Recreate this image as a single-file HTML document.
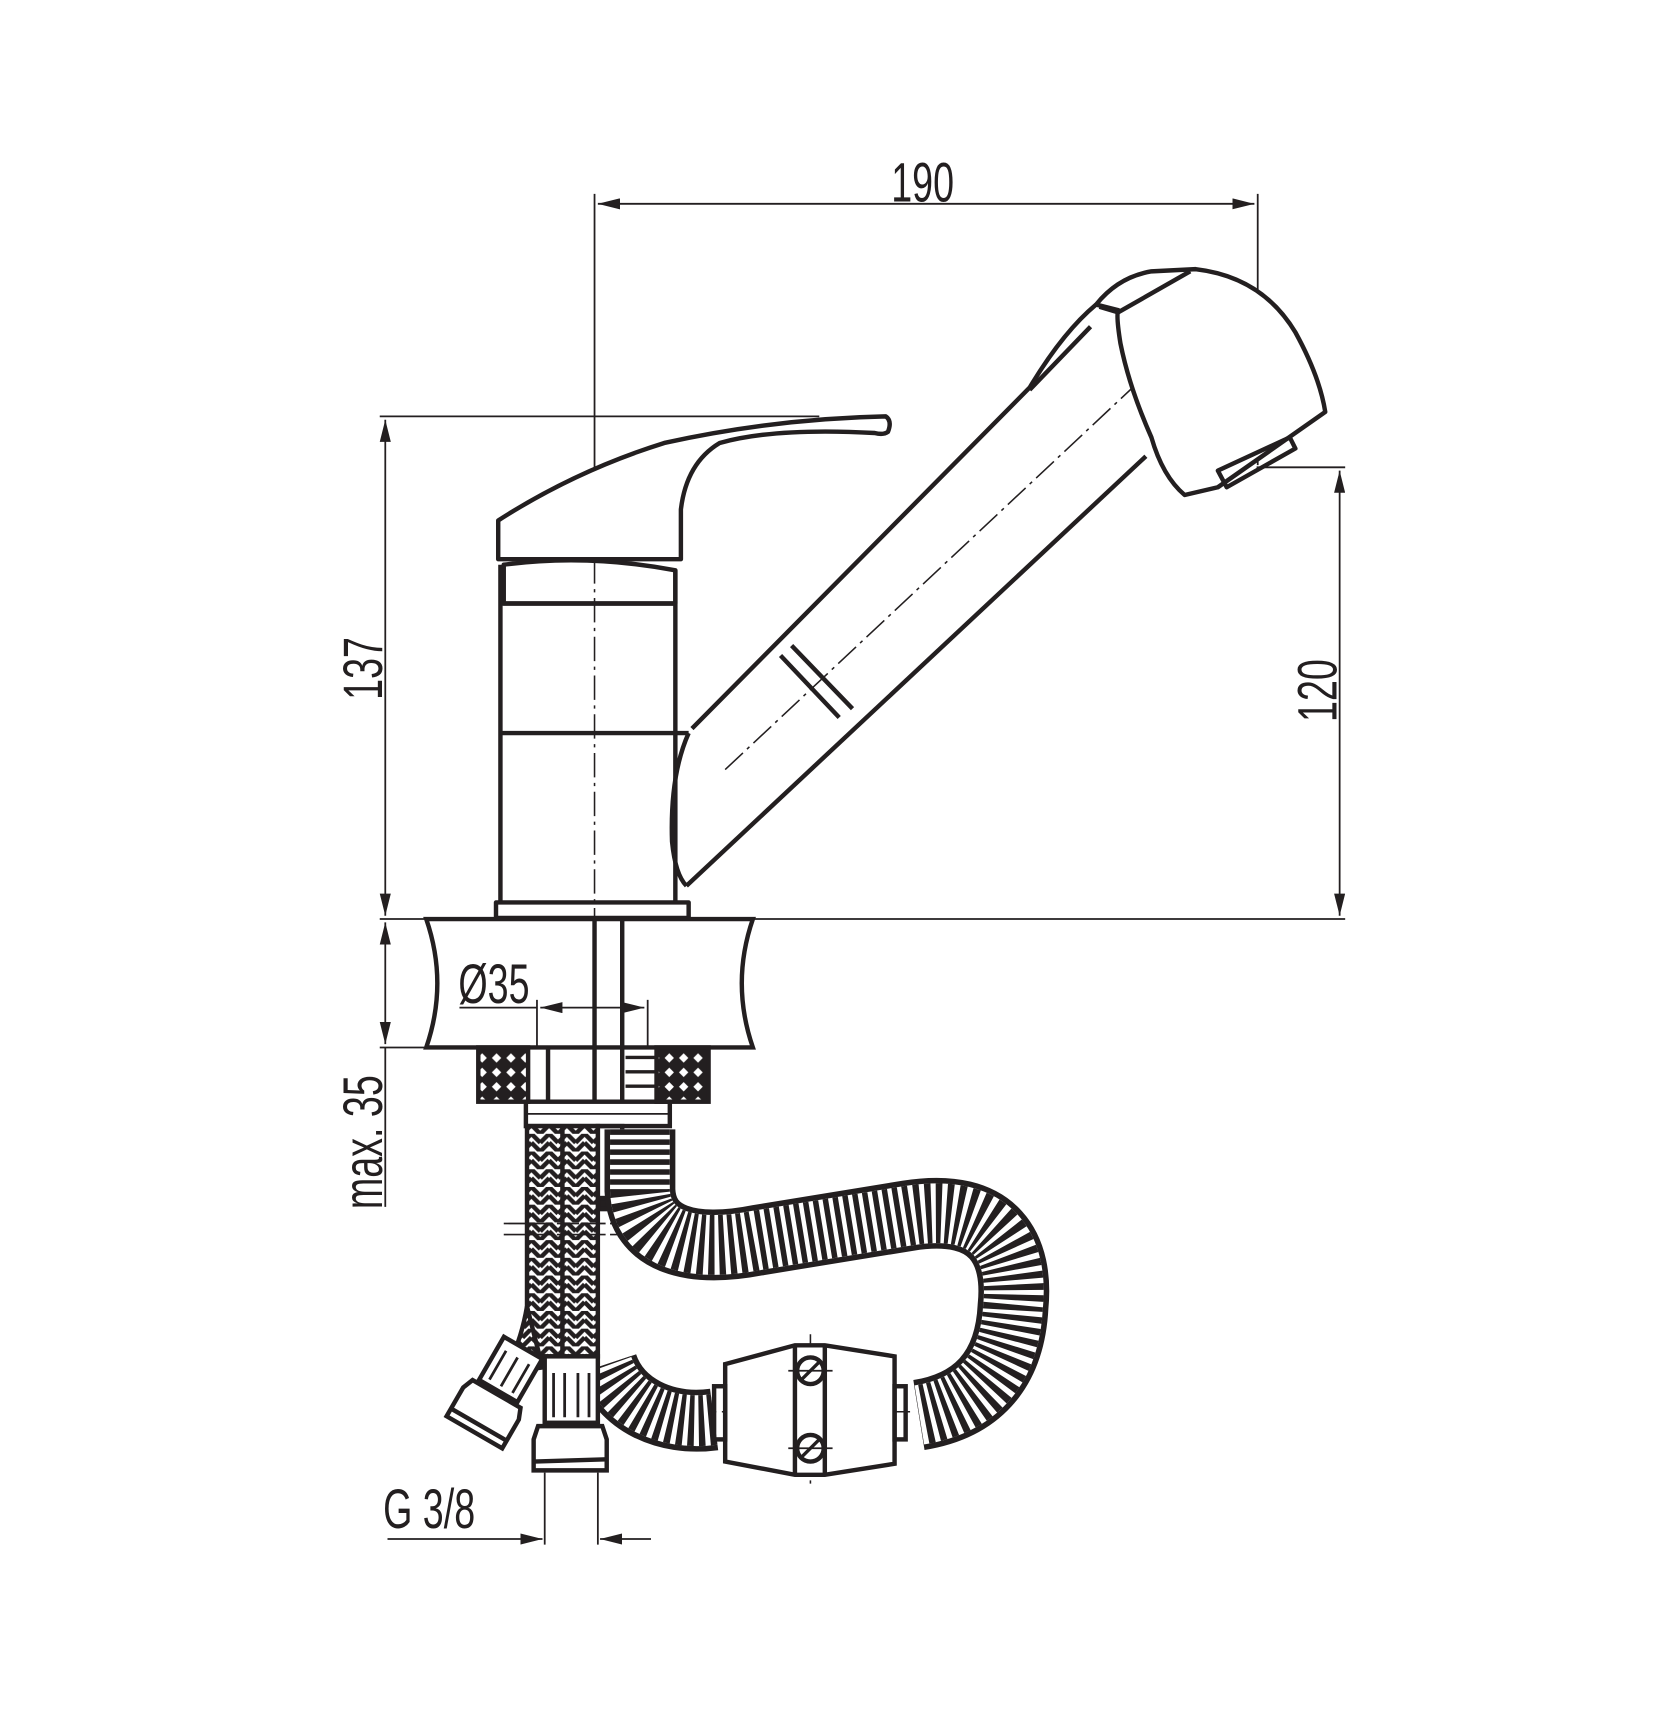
<!DOCTYPE html>
<html><head><meta charset="utf-8"><style>
html,body{margin:0;padding:0;background:#fff}
svg{display:block}
text{font-family:"Liberation Sans",sans-serif;fill:#231f20}
</style></head><body>
<svg width="1674" height="1734" viewBox="0 0 1512 1566" xmlns="http://www.w3.org/2000/svg">
<defs>
<pattern id="xh" width="13" height="13" patternUnits="userSpaceOnUse">
<rect width="13" height="13" fill="#231f20"/>
<rect x="3.5" y="3.5" width="6" height="6" fill="#fff" transform="rotate(45 6.5 6.5)"/>
</pattern>
<pattern id="br" width="16" height="16" patternUnits="userSpaceOnUse">
<rect width="16" height="16" fill="#fff"/>
<path d="M0,0 L8,8 M8,8 L16,0 M0,8 L8,16 M8,16 L16,8" stroke="#231f20" stroke-width="4"/>
</pattern>
<marker id="a" viewBox="0 0 20 10" refX="20" refY="5" markerWidth="20" markerHeight="10" markerUnits="userSpaceOnUse" orient="auto-start-reverse">
<path d="M0,0 L20,5 L0,10 z" fill="#231f20"/>
</marker>
</defs>
<g stroke="#231f20" fill="none">
<g stroke-width="1.6">
<line x1="537" y1="175" x2="537" y2="470"/>
<line x1="1136" y1="175" x2="1136" y2="420"/>
<line x1="540" y1="184" x2="1133" y2="184" marker-start="url(#a)" marker-end="url(#a)"/>
<line x1="343" y1="376" x2="740" y2="376"/>
<line x1="348" y1="379" x2="348" y2="827" marker-start="url(#a)" marker-end="url(#a)"/>
<line x1="343" y1="830" x2="1215" y2="830"/>
<line x1="1135" y1="422" x2="1215" y2="422"/>
<line x1="1210" y1="425" x2="1210" y2="827" marker-start="url(#a)" marker-end="url(#a)"/>
<line x1="348" y1="833" x2="348" y2="943" marker-start="url(#a)" marker-end="url(#a)"/>
<line x1="343" y1="946" x2="395" y2="946"/>
<line x1="348" y1="946" x2="348" y2="1090"/>
<line x1="485" y1="903" x2="485" y2="946"/>
<line x1="585" y1="903" x2="585" y2="946"/>
<line x1="415" y1="910" x2="485" y2="910"/>
<line x1="488" y1="910" x2="582" y2="910" marker-start="url(#a)" marker-end="url(#a)"/>
<line x1="492" y1="1330" x2="492" y2="1395"/>
<line x1="540" y1="1330" x2="540" y2="1395"/>
<line x1="350" y1="1390" x2="490" y2="1390" marker-end="url(#a)"/>
<line x1="588" y1="1390" x2="542" y2="1390" marker-end="url(#a)"/>
</g>
<g stroke-width="1.4" stroke-dasharray="22 5 3 5">
<line x1="537" y1="470" x2="537" y2="830"/>
<line x1="655" y1="695" x2="1055" y2="320"/>
<line x1="1042" y1="255" x2="1130" y2="412"/>
<line x1="625" y1="1275" x2="822" y2="1275"/>
<line x1="732" y1="1205" x2="732" y2="1342"/>
</g>
<g stroke-width="4" stroke-linejoin="round">
<path d="M450,505 L450,470 Q520,425 600,400 Q700,378 800,376 Q806,380 802,390 Q798,393 790,391 Q700,386 650,400 Q620,418 615,460 L615,505 Z" fill="#fff"/>
<path d="M455,510 Q530,500 610,515 L610,545 L455,545 Z"/>
<path d="M452,510 L452,815 M610,515 L610,815"/>
<line x1="452" y1="545" x2="610" y2="545"/>
<line x1="452" y1="662" x2="622" y2="662"/>
<rect x="448" y="815" width="174" height="14"/>
<path d="M622,662 Q605,700 607,760 Q610,790 620,800"/>
<path d="M620,800 L1035,412"/>
<path d="M625,658 L930,350 Q960,300 990,275"/>
<path d="M990,275 Q1010,250 1040,245 L1080,243 Q1140,250 1170,300 Q1192,340 1197,372 L1100,440 L1070,447 Q1050,430 1040,395 Q1020,350 1012,310 Q1008,285 1010,280 Z" fill="#fff"/>
<path d="M1010,282 L1075,245"/>
<path d="M993,277 L1010,282"/>
<path d="M930,352 L985,295"/>
<path d="M1100,425 L1165,395 L1170,405 L1108,440 Z"/>
<line x1="705" y1="592" x2="758" y2="648"/>
<line x1="715" y1="583" x2="770" y2="640"/>
</g>
<g stroke-width="4">
<path d="M385,830 L680,830 Q660,888 680,946 L385,946 Q405,888 385,830 Z"/>
<line x1="537" y1="830" x2="537" y2="995"/>
<line x1="562" y1="830" x2="562" y2="995"/>
<rect x="432" y="946" width="45" height="49" fill="url(#xh)"/>
<rect x="593" y="946" width="47" height="49" fill="url(#xh)"/>
<line x1="495" y1="946" x2="495" y2="995"/>
<path d="M565,955 H593 M565,968 H593 M565,981 H593" stroke-width="3"/>
<rect x="475" y="995" width="130" height="22"/>
<line x1="475" y1="1006" x2="605" y2="1006" stroke-width="1.5"/>
<rect x="540" y="1017" width="22" height="70"/>
<rect x="540" y="1082" width="22" height="10" fill="#231f20"/>
</g>
<path d="M578,1020 L578,1075 C580,1120 625,1132 685,1120 L820,1098 C900,1085 920,1130 915,1180 C912,1240 880,1270 830,1278" stroke-width="64"/>
<path d="M578,1020 L578,1075 C580,1120 625,1132 685,1120 L820,1098 C900,1085 920,1130 915,1180 C912,1240 880,1270 830,1278" stroke-width="54" stroke="#fff"/>
<path d="M578,1020 L578,1075 C580,1120 625,1132 685,1120 L820,1098 C900,1085 920,1130 915,1180 C912,1240 880,1270 830,1278" stroke-width="54" stroke-dasharray="5 4"/>
<path d="M645,1282 C600,1288 560,1268 548,1232" stroke-width="56"/>
<path d="M645,1282 C600,1288 560,1268 548,1232" stroke-width="46" stroke="#fff"/>
<path d="M645,1282 C600,1288 560,1268 548,1232" stroke-width="46" stroke-dasharray="5 4"/>
<g stroke-width="4">
<rect x="476" y="1017" width="64" height="208" fill="url(#br)"/>
<line x1="508" y1="1017" x2="508" y2="1225"/>
<path d="M476,1180 Q470,1215 455,1240 L490,1235 Z" fill="url(#br)"/>
<line x1="455" y1="1105" x2="560" y2="1105" stroke-width="1.5" stroke-dasharray="20 4"/>
<line x1="455" y1="1115" x2="560" y2="1115" stroke-width="1.5" stroke-dasharray="20 4"/>
<rect x="492" y="1225" width="48" height="60" fill="#fff"/>
<path d="M500,1240 V1280 M510,1240 V1280 M522,1240 V1280 M532,1240 V1280" stroke-width="2.5"/>
<path d="M486,1288 L544,1288 L548,1300 L548,1328 L482,1328 L482,1300 Z" fill="#fff"/>
<line x1="482" y1="1320" x2="548" y2="1318"/>
<g transform="rotate(30 445 1265)">
<rect x="425" y="1210" width="40" height="45" fill="#fff"/>
<path d="M433,1220 V1250 M445,1220 V1250 M457,1220 V1250" stroke-width="2.5"/>
<path d="M420,1258 L470,1258 L474,1268 L474,1298 L416,1298 L416,1268 Z" fill="#fff"/>
<line x1="416" y1="1290" x2="474" y2="1290"/>
</g>
<path d="M655,1232 L718,1215 L745,1215 L808,1225 L808,1322 L745,1332 L718,1332 L655,1320 Z" fill="#fff"/>
<line x1="718" y1="1215" x2="718" y2="1332"/>
<line x1="745" y1="1215" x2="745" y2="1332"/>
<circle cx="732" cy="1238" r="12" fill="#fff"/>
<circle cx="732" cy="1308" r="12" fill="#fff"/>
<path d="M724,1246 L740,1230 M724,1316 L740,1300" stroke-width="3"/>
<path d="M712,1238 H752 M712,1308 H752" stroke-width="1.5"/>
<rect x="645" y="1252" width="10" height="48"/>
<rect x="808" y="1252" width="10" height="48"/>
</g>
</g>
<g font-size="50">
<text x="0" y="0" transform="translate(805,182) scale(0.68,1)">190</text>
<text x="0" y="0" transform="translate(345,632) rotate(-90) scale(0.68,1)">137</text>
<text x="0" y="0" transform="translate(1207,652) rotate(-90) scale(0.68,1)">120</text>
<text x="0" y="0" transform="translate(345,1092) rotate(-90) scale(0.68,1)">max. 35</text>
<text x="0" y="0" transform="translate(414,906) scale(0.68,1)">Ø35</text>
<text x="0" y="0" transform="translate(346,1380) scale(0.68,1)">G 3/8</text>
</g>
</svg>
</body></html>
